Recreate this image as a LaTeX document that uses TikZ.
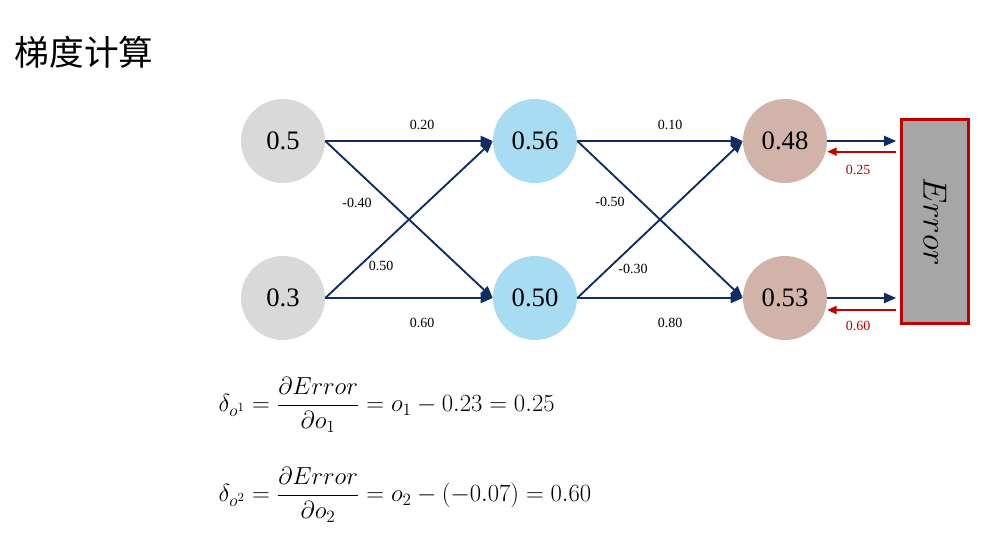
\RequirePackage{fix-cm}
\documentclass[tikz,border=0pt]{standalone}
\usepackage{amsmath}
\usepackage{fontspec}
\setmainfont{Liberation Serif}
\newfontfamily\cjk{Noto Sans CJK SC}
\usetikzlibrary{positioning}
\usetikzlibrary{arrows.meta}

\definecolor{navy}{HTML}{0F2C63}
\definecolor{errred}{HTML}{C00000}
\definecolor{ingray}{HTML}{D9D9D9}
\definecolor{hidblue}{HTML}{A7DCF2}
\definecolor{outbrown}{HTML}{D1B3AA}
\definecolor{boxgray}{HTML}{A6A6A6}

\begin{document}
\begin{tikzpicture}
    [x=0.75pt,y=-0.75pt]

    \tikzstyle{neuron} = [circle,minimum size=63pt,inner sep=0pt,font=\fontsize{20}{24}\selectfont]
    \tikzstyle{inp}    = [neuron,fill=ingray]
    \tikzstyle{hid}    = [neuron,fill=hidblue]
    \tikzstyle{outp}   = [neuron,fill=outbrown]
    \tikzstyle{link}   = [-{Triangle[length=9pt,width=7.5pt]},line width=1.4pt,color=navy]
    \tikzstyle{back}   = [-{Triangle[length=7pt,width=6pt]},line width=1.4pt,color=errred]
    \tikzstyle{weight} = [font=\fontsize{10.5}{12}\selectfont,inner sep=1pt]

    \useasboundingbox (0,0) rectangle (991,553);

    \node [anchor=west,font=\fontsize{26}{30}\selectfont] (title) at (10,52) {\cjk 梯度计算};

    \node [inp] (i1) at (283,141) {0.5} ;
    \node [inp] (i2) at (283,298) {0.3} ;
    \node [hid] (h1) at (535,141) {0.56} ;
    \node [hid] (h2) at (535,298) {0.50} ;
    \node [outp] (o1) at (785,141) {0.48} ;
    \node [outp] (o2) at (785,298) {0.53} ;

    \node [draw=errred,line width=2.2pt,fill=boxgray,minimum width=50pt,minimum height=153pt]
          (err) at (935,221.5) {} ;
    \node [rotate=-90,font=\fontsize{25}{30}\selectfont] (errtxt) at (err) {$Error$} ;

    \draw [link] (i1.east) -- (h1.west) ;
    \draw [link] (i1.east) -- (h2.west) ;
    \draw [link] (i2.east) -- (h1.west) ;
    \draw [link] (i2.east) -- (h2.west) ;
    \draw [link] (h1.east) -- (o1.west) ;
    \draw [link] (h1.east) -- (o2.west) ;
    \draw [link] (h2.east) -- (o1.west) ;
    \draw [link] (h2.east) -- (o2.west) ;

    \draw [link,shorten >=3pt] (o1.east) -- (o1.east -| err.west) ;
    \draw [link,shorten >=3pt] (o2.east) -- (o2.east -| err.west) ;
    \draw [back,shorten <=3pt] ([yshift=-8pt]o1.east -| err.west) -- ([yshift=-8pt]o1.east) ;
    \draw [back,shorten <=3pt] ([yshift=-9pt]o2.east -| err.west) -- ([yshift=-9pt]o2.east) ;

    \node [weight] (w1) at (422,125) {0.20} ;
    \node [weight] (w2) at (357,203) {-0.40} ;
    \node [weight] (w3) at (381,266) {0.50} ;
    \node [weight] (w4) at (422,323) {0.60} ;
    \node [weight] (w5) at (670,125) {0.10} ;
    \node [weight] (w6) at (610,202) {-0.50} ;
    \node [weight] (w7) at (633,269) {-0.30} ;
    \node [weight] (w8) at (670,323) {0.80} ;
    \node [weight,color=errred] (d1) at (858,170) {0.25} ;
    \node [weight,color=errred] (d2) at (858,326) {0.60} ;

    \node [anchor=west,font=\fontsize{18.5}{22}\selectfont] (eq1) at (214,405)
          {$\delta_{o^1} = \dfrac{\partial Error}{\partial o_1} = o_1 - 0.23 = 0.25$} ;
    \node [anchor=west,font=\fontsize{18.5}{22}\selectfont] (eq2) at (214,495)
          {$\delta_{o^2} = \dfrac{\partial Error}{\partial o_2} = o_2 - (-0.07) = 0.60$} ;
\end{tikzpicture}
\end{document}
